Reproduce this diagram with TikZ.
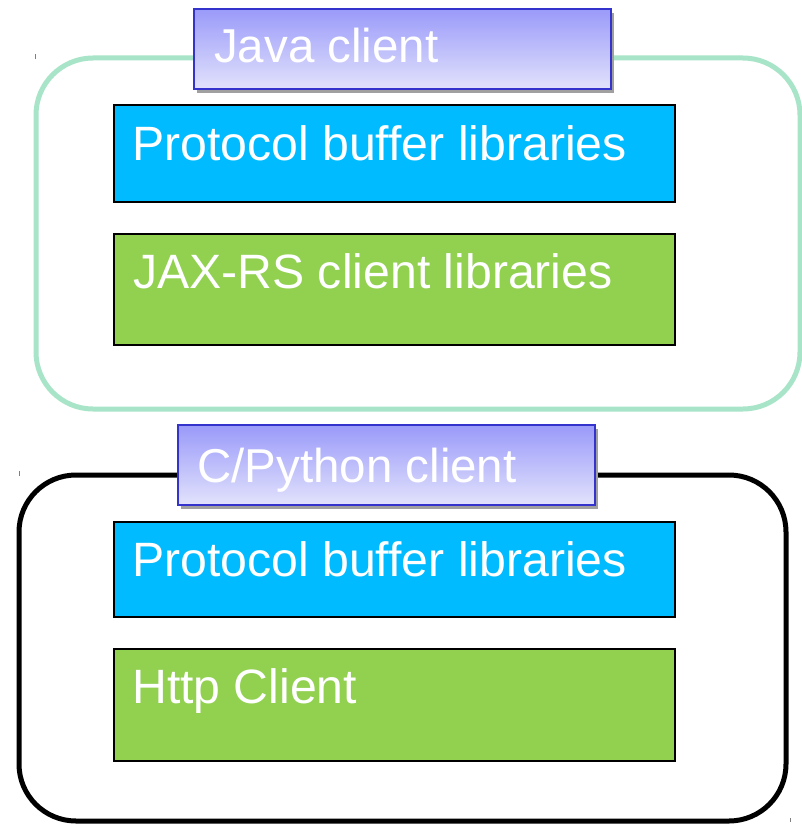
\documentclass[tikz,border=0pt]{standalone}
\usepackage{fontspec}
\setmainfont{Liberation Sans}
\definecolor{outergreen}{RGB}{168,228,200}
\definecolor{pbblue}{RGB}{0,187,255}
\definecolor{libgreen}{RGB}{146,208,80}
\definecolor{titletop}{RGB}{154,154,250}
\definecolor{titlebot}{RGB}{226,226,252}
\definecolor{titleedge}{RGB}{52,52,204}
\definecolor{shadowgray}{RGB}{160,160,160}
\tikzset{
  groupbox/.style={draw, line width=5pt, rounded corners=57pt, rectangle, anchor=north west, inner sep=0pt, outer sep=0pt},
  titlebox/.style={draw=titleedge, line width=2pt, top color=titletop, bottom color=titlebot, rectangle, anchor=north west, inner sep=0pt, outer sep=0pt},
  shadowbox/.style={fill=shadowgray, rectangle, anchor=north west, inner sep=0pt, outer sep=0pt},
  libbox/.style={draw=black, line width=1.5pt, rectangle, anchor=north west, inner sep=0pt, outer sep=0pt, minimum width=561pt},
  boxtext/.style={anchor=base west, inner sep=0pt, text=white, font=\fontsize{48.2}{58}\selectfont},
  tick/.style={draw=gray, line width=0.8pt}
}
\begin{document}
\begin{tikzpicture}[x=1pt,y=-1pt]
\useasboundingbox (0,0) rectangle (802,824);
% Java client group
\node[groupbox, draw=outergreen, minimum width=764pt, minimum height=351pt] (javagroup) at (36,58) {};
\node[shadowbox, minimum width=417pt, minimum height=80pt] (javashadow) at (197,13) {};
\node[titlebox, minimum width=417pt, minimum height=80pt] (javatitle) at (194,9) {};
\node[boxtext, font=\fontsize{47.5}{57}\selectfont] (javatitletext) at (214,63) {Java client};
\node[libbox, fill=pbblue, minimum height=97pt] (pb1) at (114,105) {};
\node[boxtext] (pb1text) at (132,160) {Protocol buffer libraries};
\node[libbox, fill=libgreen, minimum height=111pt] (jax) at (114,234) {};
\node[boxtext] (jaxtext) at (133,288) {JAX-RS client libraries};
% C/Python client group
\node[groupbox, draw=black, minimum width=767pt, minimum height=346pt] (cgroup) at (19,475) {};
\node[shadowbox, minimum width=417pt, minimum height=80pt] (cshadow) at (181,429) {};
\node[titlebox, minimum width=417pt, minimum height=80pt] (ctitle) at (178,425) {};
\node[boxtext, font=\fontsize{47.5}{57}\selectfont] (ctitletext) at (197,482) {C/Python client};
\node[libbox, fill=pbblue, minimum height=95pt] (pb2) at (114,522) {};
\node[boxtext] (pb2text) at (132,576) {Protocol buffer libraries};
\node[libbox, fill=libgreen, minimum height=112pt] (http) at (114,649) {};
\node[boxtext] (httptext) at (132,703) {Http Client};
% small marks
\coordinate (t1a) at (35,54); \coordinate (t1b) at (35,59);
\coordinate (t2a) at (19,471); \coordinate (t2b) at (19,476);
\coordinate (t3a) at (790,818); \coordinate (t3b) at (790,822);
\draw[tick] (t1a) -- (t1b);
\draw[tick] (t2a) -- (t2b);
\draw[tick] (t3a) -- (t3b);
\end{tikzpicture}
\end{document}
